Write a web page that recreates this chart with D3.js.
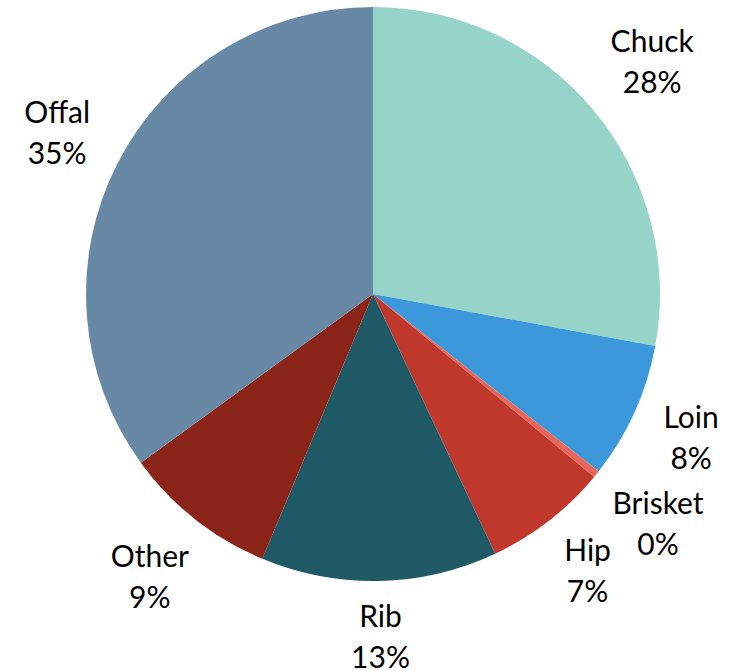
<!DOCTYPE html>
<html>
<head>
<meta charset="utf-8">
<script src="https://cdn.jsdelivr.net/npm/d3@7"></script>
<style>
  html, body { margin: 0; padding: 0; background: #ffffff; }
  svg { display: block; }
</style>
</head>
<body>
<svg id="chart" width="736" height="671"></svg>
<script>
// ---- data ----
const categories = ["Chuck", "Loin", "Brisket", "Hip", "Rib", "Other", "Offal"];
const shares = [27.9, 7.7, 0.4, 7.0, 13.3, 8.7, 35.0];
const colors = ["#96d4ca", "#3a98db", "#e5675b", "#bf382b", "#215a67", "#8b2419", "#6789a5"];

// ---- layout ----
const width = 736, height = 671;
const cx = 373, cy = 294, radius = 287;
const labelGap = 24;
const lineHeight = 41;
const capHeight = 21.6;
const visHalf = (lineHeight + capHeight) / 2;

const svg = d3.select("#chart");
const g = svg.append("g").attr("transform", `translate(${cx},${cy})`);

const data = categories.map((c, i) => ({ name: c, value: shares[i], color: colors[i] }));

const pie = d3.pie().value(d => d.value).sort(null);
const arc = d3.arc().innerRadius(0).outerRadius(radius);
const arcs = pie(data);

g.selectAll("path.slice")
  .data(arcs)
  .join("path")
  .attr("class", "slice")
  .attr("d", arc)
  .attr("fill", d => d.data.color);

// ---- labels ----
const fmt = v => Math.round(v) + "%";
const labels = g.selectAll("g.label")
  .data(arcs)
  .join("g")
  .attr("class", "label");

const texts = labels.append("text")
  .attr("text-anchor", "middle")
  .style("font-family", "Lato, 'Open Sans', sans-serif")
  .style("font-size", "30px")
  .attr("fill", "#000");

const y1 = -(lineHeight - capHeight) / 2;
texts.append("tspan").attr("x", 0).attr("y", y1).text(d => d.data.name);
texts.append("tspan").attr("x", 0).attr("y", y1 + lineHeight).text(d => fmt(d.data.value));

labels.each(function(d) {
  const bb = this.getBBox();
  const w = bb.width;
  const a = (d.startAngle + d.endAngle) / 2;
  const sx = Math.sin(a), sy = -Math.cos(a);
  const ext = Math.abs(sx) * w / 2 + Math.abs(sy) * visHalf;
  const r = radius + labelGap + ext;
  d3.select(this).attr("transform", `translate(${sx * r},${sy * r})`);
});
</script>
</body>
</html>
